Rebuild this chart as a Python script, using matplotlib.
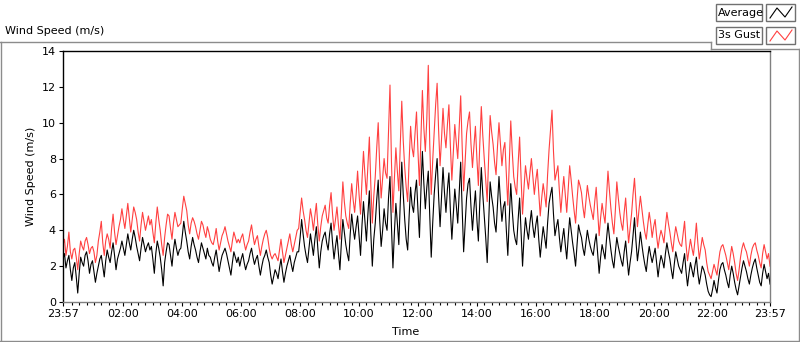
import numpy as np
import matplotlib.pyplot as plt
from matplotlib.lines import Line2D
from matplotlib.patches import Rectangle

# one row per hour after 23:57, one sample every 3 minutes
avg_speed = [
    2.4, 2.7, 1.9, 2.3, 2.6, 1.8, 1.2, 1.9, 2.2, 1.4, 0.5, 1.6, 2.5, 2.2, 2.0, 2.6, 2.8, 2.3, 1.6, 2.1,
    2.3, 1.7, 1.1, 1.6, 2.0, 2.4, 2.6, 2.0, 1.4, 2.3, 2.9, 2.5, 2.2, 2.8, 3.3, 2.6, 1.8, 2.4, 2.7, 3.0,
    3.4, 3.0, 2.6, 3.2, 3.8, 3.3, 2.9, 3.5, 4.0, 3.6, 3.1, 2.7, 2.3, 3.0, 3.6, 3.2, 2.8, 3.1, 3.3, 2.9,
    3.1, 2.4, 1.6, 2.7, 3.4, 3.0, 2.5, 1.8, 0.9, 2.2, 2.8, 3.3, 3.2, 2.6, 2.0, 2.9, 3.5, 3.0, 2.6, 2.9,
    3.0, 3.7, 4.5, 3.9, 3.4, 2.8, 2.4, 3.1, 3.6, 3.2, 2.9, 2.5, 2.2, 2.8, 3.3, 3.0, 2.7, 2.4, 3.0, 2.6,
    2.5, 2.2, 2.0, 2.5, 2.9, 2.3, 1.7, 2.2, 2.6, 2.8, 3.0, 2.7, 2.3, 1.9, 1.5, 2.2, 2.8, 2.5, 2.2, 2.5,
    2.0, 2.4, 2.7, 2.2, 1.8, 2.1, 2.3, 2.7, 3.0, 2.5, 2.1, 2.4, 2.6, 2.0, 1.5, 2.0, 2.4, 2.6, 2.9, 2.5,
    2.2, 1.5, 1.0, 1.4, 1.8, 1.6, 1.3, 1.9, 2.4, 1.7, 1.1, 1.6, 2.0, 2.3, 2.6, 2.1, 1.7, 2.2, 2.5, 2.8,
    2.8, 3.6, 4.6, 3.8, 3.1, 2.6, 2.2, 3.0, 3.8, 3.2, 2.6, 3.5, 4.2, 3.0, 1.9, 2.8, 3.4, 3.7, 3.9, 3.3,
    2.9, 3.8, 4.4, 3.3, 2.4, 3.1, 3.7, 2.7, 1.8, 3.3, 4.6, 3.9, 3.2, 2.7, 2.3, 3.8, 4.9, 4.1, 3.5, 4.2,
    4.8, 3.7, 2.6, 4.3, 5.6, 4.5, 3.4, 4.9, 6.2, 3.8, 2.0, 3.5, 4.4, 5.7, 6.8, 4.6, 3.1, 4.0, 5.2, 4.4,
    4.0, 5.8, 7.0, 4.2, 1.9, 3.9, 5.5, 4.4, 3.2, 5.6, 7.8, 6.0, 4.6, 3.5, 2.9, 4.8, 6.4, 5.4, 5.0, 6.1,
    6.8, 5.1, 3.6, 6.2, 8.4, 6.6, 5.2, 6.4, 7.3, 4.8, 2.5, 4.4, 6.0, 7.1, 8.0, 5.9, 4.2, 5.8, 7.5, 6.1,
    5.0, 6.3, 7.2, 5.1, 3.5, 4.9, 6.3, 5.4, 4.4, 6.1, 7.8, 5.2, 2.8, 4.3, 5.8, 6.6, 6.9, 5.3, 4.0, 5.2,
    6.2, 4.6, 3.4, 5.6, 7.5, 6.0, 4.8, 3.6, 2.2, 4.5, 6.7, 5.9, 5.3, 4.4, 3.9, 5.5, 7.0, 5.6, 4.5, 5.3,
    5.6, 4.0, 2.6, 4.7, 6.6, 5.1, 4.0, 3.5, 3.2, 4.6, 5.8, 3.9, 2.0, 3.6, 4.7, 4.0, 3.5, 4.4, 5.1, 4.2,
    3.6, 4.3, 4.8, 3.5, 2.5, 3.4, 4.2, 3.6, 3.0, 4.4, 5.5, 6.0, 6.4, 4.9, 3.7, 4.2, 4.6, 3.6, 2.8, 3.5,
    4.1, 3.2, 2.4, 3.6, 4.7, 4.0, 3.3, 2.7, 2.0, 3.2, 4.3, 3.9, 3.6, 3.0, 2.6, 3.3, 4.0, 3.5, 3.1, 2.8,
    2.6, 3.3, 3.8, 2.7, 1.6, 2.5, 3.2, 2.8, 2.4, 3.5, 4.4, 3.6, 2.9, 2.3, 1.9, 2.8, 3.6, 3.1, 2.7, 2.3,
    2.0, 2.8, 3.4, 2.4, 1.5, 2.2, 2.8, 3.7, 4.7, 3.4, 2.3, 3.0, 3.9, 3.2, 2.6, 2.1, 1.7, 2.5, 3.1, 2.6,
    2.2, 2.6, 3.0, 2.2, 1.4, 2.1, 2.6, 2.3, 1.9, 2.7, 3.3, 2.8, 2.4, 1.8, 1.3, 2.1, 2.8, 2.4, 2.0, 1.8,
    1.6, 2.2, 2.7, 1.7, 0.9, 1.6, 2.2, 1.8, 1.4, 2.0, 2.5, 1.6, 1.0, 1.5, 2.0, 1.8, 1.5, 1.0, 0.6, 0.4,
    0.3, 0.7, 1.2, 0.8, 0.5, 1.2, 1.8, 2.1, 2.2, 1.8, 1.5, 1.1, 0.8, 1.5, 2.0, 1.6, 1.1, 0.7, 0.4, 0.9,
    1.4, 1.9, 2.3, 2.0, 1.7, 1.3, 1.0, 1.5, 1.9, 2.2, 2.4, 1.9, 1.5, 1.1, 0.9, 1.6, 2.1, 1.7, 1.3, 1.6,
    1.0,
]
gust_speed = [
    3.2, 3.5, 2.6, 3.1, 3.9, 2.8, 2.4, 2.9, 3.0, 2.5, 1.8, 2.7, 3.4, 3.1, 2.9, 3.4, 3.6, 3.2, 2.7, 3.0,
    3.1, 2.8, 2.2, 2.6, 3.4, 3.9, 4.5, 3.3, 2.6, 3.4, 3.8, 3.5, 3.0, 4.1, 4.9, 3.9, 3.2, 3.7, 4.2, 4.6,
    5.2, 4.6, 4.1, 4.8, 5.5, 4.7, 3.9, 4.6, 5.3, 5.0, 4.6, 3.9, 3.4, 4.3, 5.0, 4.5, 4.0, 4.4, 4.8, 4.3,
    4.6, 3.9, 3.3, 4.4, 5.3, 4.6, 4.0, 3.2, 2.6, 3.6, 4.3, 4.9, 4.8, 4.1, 3.5, 4.4, 5.0, 4.6, 4.2, 4.3,
    4.4, 5.2, 5.9, 5.5, 5.1, 4.3, 3.8, 4.4, 4.7, 4.5, 4.2, 3.8, 3.5, 4.0, 4.5, 4.3, 3.9, 3.6, 4.2, 3.9,
    3.5, 3.3, 3.2, 3.6, 4.1, 3.4, 2.9, 3.3, 3.7, 3.9, 4.2, 3.8, 3.4, 3.1, 2.8, 3.4, 3.9, 3.6, 3.3, 3.5,
    3.3, 3.6, 3.8, 3.3, 2.9, 3.2, 3.4, 3.9, 4.3, 3.7, 3.2, 3.5, 3.7, 3.1, 2.6, 3.1, 3.5, 3.8, 4.0, 3.6,
    3.0, 2.6, 2.4, 2.6, 2.7, 2.5, 2.3, 2.9, 3.5, 2.8, 2.2, 2.6, 3.0, 3.4, 3.8, 3.2, 2.8, 3.2, 3.6, 4.0,
    4.1, 5.0, 5.8, 5.1, 4.6, 4.0, 3.6, 4.4, 5.2, 4.7, 4.0, 4.8, 5.5, 4.3, 3.4, 4.2, 4.8, 5.1, 5.4, 4.7,
    4.4, 5.4, 6.1, 4.9, 4.0, 4.6, 5.3, 4.3, 3.5, 5.0, 6.7, 5.6, 4.8, 4.4, 4.1, 5.5, 6.6, 5.7, 5.0, 6.0,
    7.3, 6.0, 4.9, 6.8, 8.4, 7.1, 6.0, 7.6, 9.2, 6.5, 4.4, 5.9, 7.0, 8.6, 10.0, 7.6, 5.8, 6.9, 8.0, 7.2,
    6.9, 9.5, 12.1, 7.8, 5.0, 6.9, 8.6, 7.3, 6.2, 8.8, 11.2, 9.0, 7.5, 6.4, 5.6, 7.9, 9.8, 8.6, 8.1, 9.4,
    10.6, 8.4, 6.5, 9.2, 11.8, 9.7, 8.4, 10.2, 13.2, 8.8, 6.0, 7.9, 9.5, 11.0, 12.2, 9.6, 7.6, 9.1, 10.8, 9.4,
    8.6, 9.9, 11.0, 8.7, 6.8, 8.3, 9.9, 8.9, 8.0, 9.8, 11.5, 8.7, 6.2, 7.8, 9.4, 10.1, 10.6, 8.8, 7.5, 8.7,
    9.8, 8.0, 6.5, 8.9, 10.9, 9.3, 8.0, 6.8, 5.6, 8.1, 10.4, 9.5, 8.8, 7.8, 7.1, 8.7, 10.0, 8.8, 7.6, 8.5,
    8.9, 7.1, 5.4, 7.8, 10.1, 8.4, 7.0, 6.4, 6.0, 7.7, 9.2, 6.9, 4.9, 6.4, 7.6, 6.9, 6.3, 7.2, 8.0, 7.0,
    6.0, 6.8, 7.4, 6.1, 4.8, 5.8, 6.6, 6.0, 5.3, 7.1, 8.5, 9.6, 10.7, 8.4, 6.8, 7.2, 7.6, 6.2, 5.0, 6.1,
    7.0, 6.0, 5.0, 6.3, 7.6, 6.8, 5.9, 5.1, 4.4, 5.7, 6.8, 6.5, 6.1, 5.3, 4.7, 5.6, 6.5, 5.9, 5.4, 5.0,
    4.6, 5.6, 6.4, 5.0, 3.7, 4.7, 5.5, 4.9, 4.4, 5.9, 7.3, 6.2, 5.2, 4.4, 3.8, 5.1, 6.7, 5.8, 5.0, 4.4,
    4.0, 5.0, 5.8, 4.5, 3.3, 4.1, 4.9, 6.0, 6.9, 5.5, 4.2, 5.1, 5.9, 5.2, 4.5, 3.9, 3.5, 4.3, 5.0, 4.4,
    3.6, 4.2, 4.6, 3.7, 3.0, 3.6, 4.0, 3.7, 3.3, 4.2, 5.0, 4.4, 3.9, 3.3, 2.8, 3.6, 4.2, 3.8, 3.4, 3.2,
    3.1, 3.8, 4.5, 3.2, 2.3, 2.9, 3.5, 3.0, 2.6, 3.4, 4.4, 3.3, 2.4, 3.0, 3.6, 3.2, 2.9, 2.2, 1.7, 1.5,
    1.3, 1.7, 2.1, 1.8, 1.5, 2.2, 2.8, 3.1, 3.2, 2.9, 2.6, 2.2, 1.8, 2.5, 3.1, 2.7, 2.2, 1.6, 1.2, 1.8,
    2.5, 3.0, 3.3, 3.0, 2.8, 2.4, 2.0, 2.6, 3.0, 3.2, 3.3, 2.9, 2.6, 2.2, 1.9, 2.7, 3.2, 2.8, 2.4, 2.7,
    2.0,
]
tick_labels = ['23:57', '02:00', '04:00', '06:00', '08:00', '10:00', '12:00',
               '14:00', '16:00', '18:00', '20:00', '22:00', '23:57']

step = 0.05  # hours
offset = 3 / 60  # 23:57 -> 00:00

fig = plt.figure(figsize=(8, 3.42), dpi=100)
ax = fig.add_axes([63 / 800, 40 / 342, 707 / 800, 251 / 342])

ax.plot(np.arange(len(gust_speed)) * step, gust_speed, color='#ff4040', lw=0.8)
ax.plot(np.arange(len(avg_speed)) * step, avg_speed, color='black', lw=0.8)

ax.set_xlim(0, 24)
ax.set_ylim(0, 14)
major = [0] + [offset + 2 * k for k in range(1, 12)] + [24]
ax.set_xticks(major)
ax.set_xticklabels(tick_labels)
ax.set_xticks([offset + 0.25 * k for k in range(1, 96) if k % 8], minor=True)
ax.set_yticks(range(0, 15, 2))
ax.tick_params(labelsize=8, length=3, width=0.8, color='black', pad=2)
ax.tick_params(which='minor', length=2, width=0.8)
ax.set_xlabel('Time', fontsize=8)
ax.xaxis.set_label_coords(0.485, -0.1)
ax.set_ylabel('Wind Speed (m/s)', fontsize=8, labelpad=4)
for s in ['left', 'top']:
    ax.spines[s].set_color('black')
for s in ['right', 'bottom']:
    ax.spines[s].set_color('#808080')
for s in ax.spines.values():
    s.set_linewidth(1)

# frame around the graph, title and legend
gray = '#8c8c8c'
def px(x, y):
    return x / 800, 1 - y / 342
def hline(x0, x1, y):
    fig.add_artist(Line2D([x0 / 800, x1 / 800], [1 - y / 342] * 2, color=gray, lw=1))
def vline(x, y0, y1):
    fig.add_artist(Line2D([x / 800] * 2, [1 - y0 / 342, 1 - y1 / 342], color=gray, lw=1))

hline(0, 711, 42)
vline(0.5, 42, 341)
hline(0, 799, 340.5)
vline(798.5, 49, 341)
vline(711, 42, 49)
hline(711, 799, 49)
fig.text(5 / 800, 1 - 31 / 342, 'Wind Speed (m/s)', fontsize=8, va='center')

for y0, name, col in [(4, 'Average', 'black'), (27, '3s Gust', '#ff4040')]:
    fig.add_artist(Rectangle(px(716, y0 + 17), 46 / 800, 17 / 342, transform=fig.transFigure,
                             facecolor='white', edgecolor='#707070', lw=1))
    fig.text(718 / 800, 1 - (y0 + 8.5) / 342, name, fontsize=8, va='center')
    fig.add_artist(Rectangle(px(766, y0 + 17), 29 / 800, 17 / 342, transform=fig.transFigure,
                             facecolor='white', edgecolor='#707070', lw=1))
    xs = [770, 777, 785, 792]
    ys = [y0 + 14, y0 + 4, y0 + 13, y0 + 3]
    fig.add_artist(Line2D([x / 800 for x in xs], [1 - y / 342 for y in ys], color=col, lw=0.8))

fig.savefig('out.png', dpi=100)
